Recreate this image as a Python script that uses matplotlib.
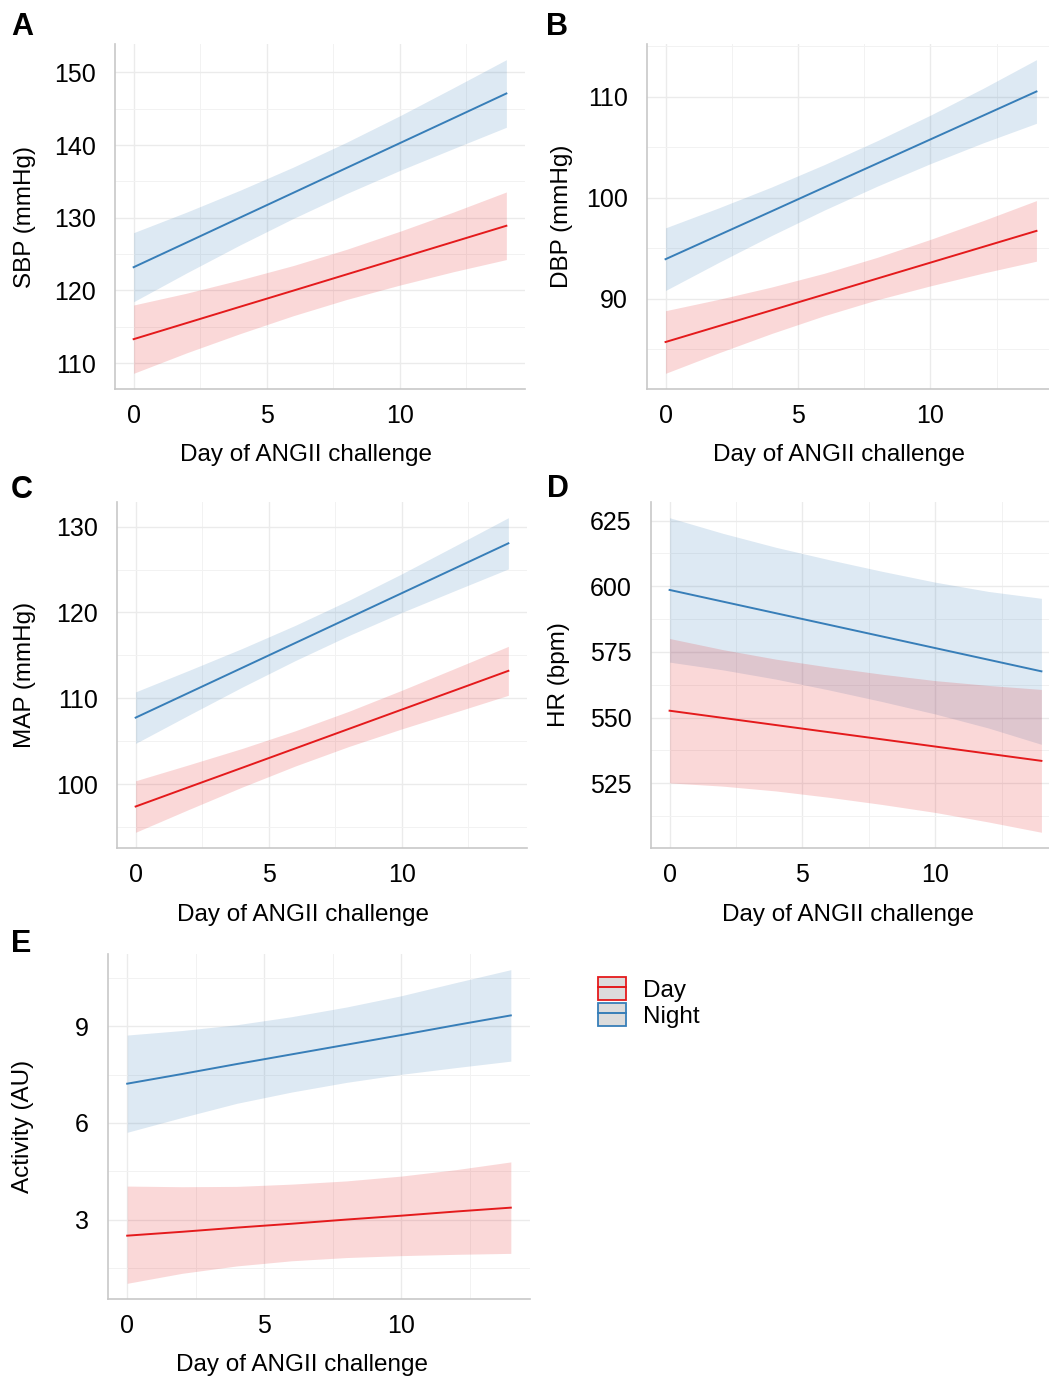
import matplotlib.pyplot as plt
from matplotlib.ticker import MultipleLocator
from matplotlib.patches import Patch
from matplotlib.lines import Line2D
from matplotlib.legend_handler import HandlerTuple

plt.rcParams['font.family'] = ['Liberation Sans', 'DejaVu Sans']

days = [0, 2, 4, 6, 8, 10, 12, 14]

# SBP
sbp_day = [113.3, 115.53, 117.76, 119.98, 122.21, 124.44, 126.67, 128.9]
sbp_day_lo = [108.6, 111.43, 114.06, 116.53, 118.76, 120.74, 122.57, 124.25]
sbp_day_hi = [118.0, 119.63, 121.46, 123.43, 125.66, 128.14, 130.77, 133.55]
sbp_night = [123.2, 126.61, 130.03, 133.44, 136.86, 140.27, 143.68, 147.1]
sbp_night_lo = [118.45, 122.43, 126.27, 129.91, 133.33, 136.51, 139.5, 142.45]
sbp_night_hi = [127.95, 130.79, 133.79, 136.97, 140.39, 144.03, 147.86, 151.75]

# DBP
dbp_day = [85.7, 87.27, 88.84, 90.41, 91.99, 93.56, 95.13, 96.7]
dbp_day_lo = [82.6, 84.62, 86.54, 88.31, 89.89, 91.26, 92.53, 93.7]
dbp_day_hi = [88.8, 89.92, 91.14, 92.51, 94.09, 95.86, 97.73, 99.7]
dbp_night = [93.9, 96.27, 98.64, 101.02, 103.39, 105.76, 108.13, 110.5]
dbp_night_lo = [90.8, 93.57, 96.24, 98.77, 101.14, 103.36, 105.43, 107.35]
dbp_night_hi = [97.0, 98.97, 101.04, 103.27, 105.64, 108.16, 110.83, 113.65]

# MAP
map_day = [97.4, 99.66, 101.91, 104.17, 106.43, 108.69, 110.94, 113.2]
map_day_lo = [94.4, 97.06, 99.66, 102.12, 104.38, 106.44, 108.39, 110.35]
map_day_hi = [100.4, 102.26, 104.16, 106.22, 108.48, 110.94, 113.49, 116.05]
map_night = [107.75, 110.65, 113.55, 116.45, 119.35, 122.25, 125.15, 128.05]
map_night_lo = [104.75, 108.05, 111.3, 114.4, 117.3, 120.0, 122.55, 125.07]
map_night_hi = [110.75, 113.25, 115.8, 118.5, 121.4, 124.5, 127.75, 131.03]

# HR
hr_day = [552.6, 549.87, 547.14, 544.42, 541.69, 538.96, 536.23, 533.5]
hr_day_lo = [525.1, 523.87, 522.04, 519.62, 516.89, 513.86, 510.23, 506.3]
hr_day_hi = [580.1, 575.87, 572.24, 569.22, 566.49, 564.06, 562.23, 560.7]
hr_night = [598.6, 594.17, 589.74, 585.32, 580.89, 576.46, 572.03, 567.6]
hr_night_lo = [571.1, 568.17, 564.64, 560.52, 556.09, 551.36, 546.03, 539.8]
hr_night_hi = [626.1, 620.17, 614.84, 610.12, 605.69, 601.56, 598.03, 595.4]

# Activity
act_day = [2.5, 2.62, 2.75, 2.87, 3.0, 3.12, 3.25, 3.37]
act_day_lo = [1.02, 1.33, 1.56, 1.72, 1.82, 1.88, 1.92, 1.95]
act_day_hi = [4.04, 4.02, 4.03, 4.1, 4.2, 4.35, 4.55, 4.79]
act_night = [7.22, 7.52, 7.83, 8.13, 8.43, 8.73, 9.04, 9.34]
act_night_lo = [5.71, 6.17, 6.61, 6.96, 7.26, 7.51, 7.72, 7.92]
act_night_hi = [8.73, 8.87, 9.05, 9.3, 9.6, 9.95, 10.36, 10.76]

x_label = 'Day of ANGII challenge'
series_names = ['Day', 'Night']
red = '#E41A1C'
blue = '#377EB8'

W, H = 1049, 1380
fig = plt.figure(figsize=(W / 100, H / 100), dpi=100)


def rect(l, r, t, b):
    return [l / W, 1 - b / H, (r - l) / W, (b - t) / H]


panels = [
    # letter, ylabel, day fit/lo/hi, night fit/lo/hi, major, minor, box px, letter pos, ylabel x px, xlabel pos
    ('A', 'SBP (mmHg)', (sbp_day, sbp_day_lo, sbp_day_hi), (sbp_night, sbp_night_lo, sbp_night_hi),
     10, 5, (115, 525, 44, 389), (11, 35), 25, (306, 455)),
    ('B', 'DBP (mmHg)', (dbp_day, dbp_day_lo, dbp_day_hi), (dbp_night, dbp_night_lo, dbp_night_hi),
     10, 5, (647, 1055, 44, 389), (546, 35), 562, (839, 455)),
    ('C', 'MAP (mmHg)', (map_day, map_day_lo, map_day_hi), (map_night, map_night_lo, map_night_hi),
     10, 5, (117, 527, 502, 848), (11, 498), 25, (303, 915)),
    ('D', 'HR (bpm)', (hr_day, hr_day_lo, hr_day_hi), (hr_night, hr_night_lo, hr_night_hi),
     25, 12.5, (651, 1060, 502, 848), (547, 497), 559, (848, 915)),
    ('E', 'Activity (AU)', (act_day, act_day_lo, act_day_hi), (act_night, act_night_lo, act_night_hi),
     3, 1.5, (108, 530, 954, 1299), (11, 952), 23, (302, 1365)),
]

for letter, ylab, day, night, major, minor, box, lpos, ylx, xlpos in panels:
    l, r, t, b = box
    ax = fig.add_axes(rect(l, r, t, b))
    for (fit, lo, hi), c in [(night, blue), (day, red)]:
        ax.fill_between(days, lo, hi, color=c, alpha=0.17, linewidth=0)
    for (fit, lo, hi), c in [(night, blue), (day, red)]:
        ax.plot(days, fit, color=c, lw=1.4)

    ymin = min(day[1] + night[1])
    ymax = max(day[2] + night[2])
    pad = 0.05 * (ymax - ymin)
    ax.set_ylim(ymin - pad, ymax + pad)
    ax.set_xlim(-0.7, 14.7)

    ax.xaxis.set_major_locator(MultipleLocator(5))
    ax.xaxis.set_minor_locator(MultipleLocator(2.5))
    ax.yaxis.set_major_locator(MultipleLocator(major))
    ax.yaxis.set_minor_locator(MultipleLocator(minor))
    ax.grid(which='major', color='#EBEBEB', lw=1.0)
    ax.grid(which='minor', color='#F2F2F2', lw=0.7)
    ax.set_axisbelow(True)

    ax.tick_params(which='both', length=0, labelsize=18, colors='black')
    ax.tick_params(axis='y', pad=14)
    ax.tick_params(axis='x', pad=11)
    for s in ['top', 'right']:
        ax.spines[s].set_visible(False)
    for s in ['left', 'bottom']:
        ax.spines[s].set_color('#C8C8C8')
        ax.spines[s].set_linewidth(1.2)

    ax.set_ylabel(ylab, fontsize=17.5, va='center')
    ax.yaxis.set_label_coords((ylx - l) / (r - l), 0.5)
    ax.set_xlabel(x_label, fontsize=17.5, va='center')
    ax.xaxis.set_label_coords((xlpos[0] - l) / (r - l), (b - xlpos[1]) / (b - t))

    fig.text(lpos[0] / W, 1 - lpos[1] / H, letter, fontsize=22, fontweight='bold',
             ha='left', va='baseline')

handles = [
    (Patch(facecolor='#DCDCDC', edgecolor=red, linewidth=1.3), Line2D([], [], color=red, lw=1.4)),
    (Patch(facecolor='#DCDCDC', edgecolor=blue, linewidth=1.3), Line2D([], [], color=blue, lw=1.4)),
]
fig.legend(handles, series_names, handler_map={tuple: HandlerTuple(ndivide=1, pad=0)},
           loc='upper left', bbox_to_anchor=(598 / W, 1 - 977 / H), bbox_transform=fig.transFigure,
           frameon=False, fontsize=17.5, borderpad=0, borderaxespad=0,
           handlelength=1.15, handleheight=1.1, handletextpad=0.7, labelspacing=0.05)

fig.savefig('out.png', dpi=100)
